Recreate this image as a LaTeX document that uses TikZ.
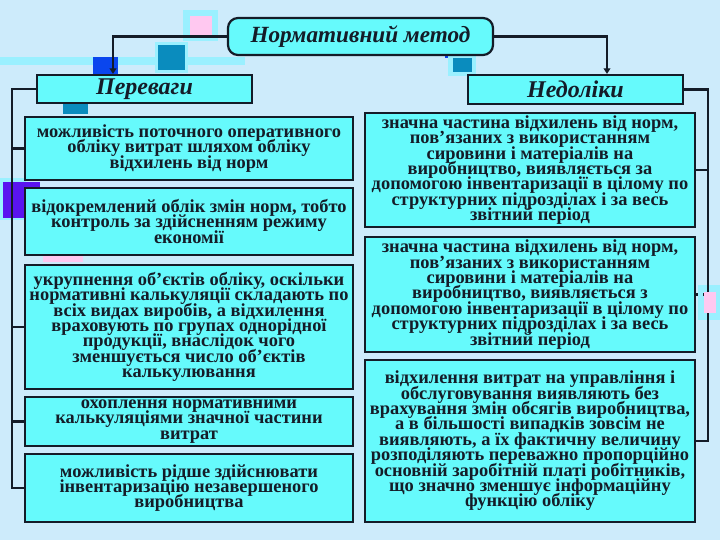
\documentclass[tikz,border=0pt]{standalone}
\usepackage{fontspec}
\setmainfont{Liberation Serif}
\usepackage{tikz}
\usetikzlibrary{arrows.meta,positioning,calc}
\definecolor{backdrop}{HTML}{CDEBFB}
\definecolor{boxfill}{HTML}{66FAFC}
\definecolor{edge}{HTML}{141C28}
\definecolor{teal}{HTML}{0A8CBE}
\definecolor{deepblue}{HTML}{0A46EE}
\definecolor{violet}{HTML}{5A14F0}
\definecolor{pinkish}{HTML}{FFC8F0}
\definecolor{band}{HTML}{9AF0FF}
\newcommand\boxfont{\bfseries\fontsize{9.2}{7.7}\selectfont\lineskiplimit=-20pt\relax}
\tikzset{
  textbox/.style={draw=edge, fill=boxfill, line width=1.1pt, align=center, inner sep=0pt,
                  font=\boxfont, text=edge},
  headbox/.style={draw=edge, fill=boxfill, line width=1.1pt, align=center,
                  inner sep=0pt, font=\bfseries\itshape\fontsize{12}{13}\selectfont, text=edge},
  link/.style={line width=1.1pt, draw=edge},
  arrow/.style={-{Triangle[length=2.8pt,width=3.4pt]}, line width=1.1pt, draw=edge}
}

\begin{document}
\begin{tikzpicture}[x=0.5pt,y=-0.5pt]
        % backdrop
        \fill[backdrop] (0,0) rectangle (720,540);
        \useasboundingbox (0,0) rectangle (720,540);
        % decorative squares
        \fill[band] (0,57) rectangle (245,65);
        \fill[band] (183,10) rectangle (218,41);
        \fill[pinkish] (190,16) rectangle (212,36);
        \fill[band] (155,42) rectangle (188,73);
        \fill[teal] (158,45) rectangle (185,70);
        \fill[deepblue] (93,57) rectangle (118,75);
        \fill[teal] (63,100) rectangle (88,114);
        \fill[deepblue] (445,52) rectangle (470,58);
        \fill[band] (448,56) rectangle (476,76);
        \fill[teal] (453,58) rectangle (472,72);
        \fill[band] (0,178) rectangle (26,220);
        \fill[violet] (3,182) rectangle (40,218);
        \fill[pinkish] (43,256) rectangle (83,262);
        \fill[band] (698,285) rectangle (720,320);

        % title
        \node[headbox, font=\bfseries\itshape\fontsize{11.6}{13}\selectfont, rounded corners=5pt,
              minimum width=132.5pt, minimum height=18.5pt]
          (method) at (360.5,36.5) {Нормативний метод};
        \node[headbox, minimum width=107.5pt, minimum height=14pt]
          (adv) at (144.5,89) {Переваги};
        \node[headbox, minimum width=107.5pt, minimum height=14.5pt]
          (dis) at (575.5,89.5) {Недоліки};

        % advantages
        \node[textbox, minimum width=164pt, minimum height=31.5pt] (adv1) at (189,148.5)
          {можливість поточного оперативного\\обліку витрат шляхом обліку\\відхилень від норм};
        \node[textbox, minimum width=164pt, minimum height=33.5pt] (adv2) at (189,221.5)
          {відокремлений облік змін норм, тобто\\контроль за здійсненням режиму\\економії};
        \node[textbox, minimum width=164pt, minimum height=62pt] (adv3) at (189,327)
          {укрупнення об’єктів обліку, оскільки\\нормативні калькуляції складають по\\всіх видах виробів, а відхилення\\враховують по групах однорідної\\продукції, внаслідок чого\\зменшується число об’єктів\\калькулювання};
        \node[textbox, minimum width=164pt, minimum height=24.5pt] (adv4) at (189,421.5)
          {охоплення нормативними\\калькуляціями значної частини\\витрат};
        \node[textbox, minimum width=164pt, minimum height=34pt] (adv5) at (189,488)
          {можливість рідше здійснювати\\інвентаризацію незавершеного\\виробництва};

        % drawbacks
        \node[textbox, minimum width=165pt, minimum height=57pt] (dis1) at (530,170)
          {значна частина відхилень від норм,\\пов’язаних з використанням\\сировини і матеріалів на\\виробництво, виявляється за\\допомогою інвентаризації в цілому по\\структурних підрозділах і за весь\\звітний період};
        \node[textbox, minimum width=165pt, minimum height=57.5pt] (dis2) at (530,294.5)
          {значна частина відхилень від норм,\\пов’язаних з використанням\\сировини і матеріалів на\\виробництво, виявляється з\\допомогою інвентаризації в цілому по\\структурних підрозділах і за весь\\звітний період};
        \node[textbox, minimum width=165pt, minimum height=81pt] (dis3) at (530,441)
          {відхилення витрат на управління і\\обслуговування виявляють без\\врахування змін обсягів виробництва,\\а в більшості випадків зовсім не\\виявляють, а їх фактичну величину\\розподіляють переважно пропорційно\\основній заробітній платі робітників,\\що значно зменшує інформаційну\\функцію обліку};

        % arrows from the title
        \draw[arrow] (method.west) -| ([xshift=-15.75pt]adv.north);
        \draw[arrow] (method.east) -| ([xshift=15.75pt]dis.north);

        % left bracket
        \coordinate (lrail) at (12,0);
        \draw[link] (adv.west) -- (adv.west -| lrail) |- (adv5.west);
        \foreach \b in {adv1,adv3,adv4}
          \draw[link] (\b.west -| lrail) -- (\b.west);
        % right bracket
        \coordinate (rrail) at (708,0);
        \draw[link] (dis.east) -- (dis.east -| rrail) |- (dis3.east);
        \foreach \b in {dis1,dis2}
          \draw[link] (\b.east -| rrail) -- (\b.east);
        % squares lying over the lines
        \fill[band] (698,285) rectangle (703,320);
        \fill[pinkish] (704,292) rectangle (716,313);
      \end{tikzpicture}
\end{document}
